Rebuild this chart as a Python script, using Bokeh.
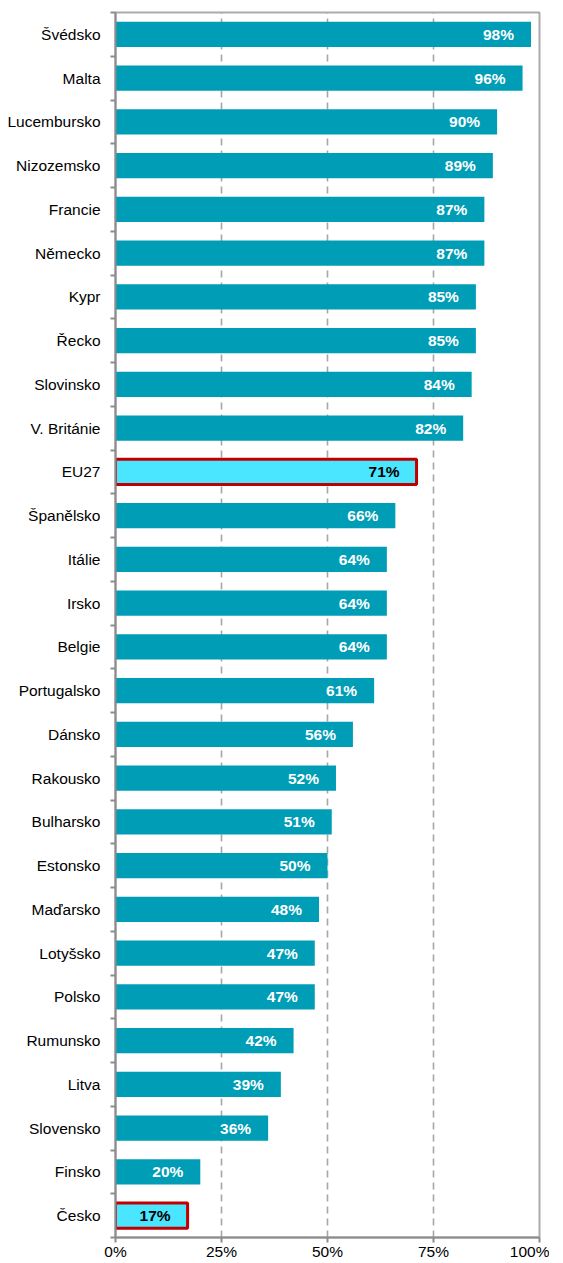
from bokeh.plotting import figure
from bokeh.models import ColumnDataSource, FixedTicker, Range1d
from bokeh.core.properties import value
from bokeh.embed import file_html
from bokeh.resources import INLINE

countries = ["Švédsko", "Malta", "Lucembursko", "Nizozemsko", "Francie", "Německo", "Kypr",
             "Řecko", "Slovinsko", "V. Británie", "EU27", "Španělsko", "Itálie", "Irsko",
             "Belgie", "Portugalsko", "Dánsko", "Rakousko", "Bulharsko", "Estonsko",
             "Maďarsko", "Lotyšsko", "Polsko", "Rumunsko", "Litva", "Slovensko", "Finsko", "Česko"]
values = [98, 96, 90, 89, 87, 87, 85, 85, 84, 82, 71, 66, 64, 64, 64, 61, 56, 52, 51, 50,
          48, 47, 47, 42, 39, 36, 20, 17]
highlighted = ["EU27", "Česko"]
x_ticks = [0, 25, 50, 75, 100]
x_tick_labels = ["0%", "25%", "50%", "75%", "100%"]

n = len(countries)
ypos = [n - 1 - i for i in range(n)]

normal = {"y": [], "v": [], "lab": []}
hl = {"y": [], "v": [], "lab": []}
for c, v, y in zip(countries, values, ypos):
    d = hl if c in highlighted else normal
    d["y"].append(y)
    d["v"].append(v)
    d["lab"].append(f"{v}%")

src_n = ColumnDataSource(normal)
src_h = ColumnDataSource(hl)

FONT = "Liberation Sans"

p = figure(frame_width=424, frame_height=1225, output_backend="svg", toolbar_location=None,
           x_range=Range1d(0, 100), y_range=Range1d(-0.5, n - 0.5),
           min_border_left=115, min_border_right=10, min_border_top=12, min_border_bottom=10)

p.outline_line_color = "#ABABAB"
p.outline_line_width = 2

p.hbar(y="y", right="v", left=0, height=0.58, source=src_n, fill_color="#009DB6",
       line_color=None)
p.hbar(y="y", right="v", left=0, height=0.58, source=src_h, fill_color="#4AE5FF",
       line_color="#C00000", line_width=3)

p.text(x="v", y="y", text="lab", source=src_n, text_align="right", text_baseline="middle",
       x_offset=-17, text_color="white", text_font=value(FONT), text_font_size="15.5px",
       text_font_style="bold")
p.text(x="v", y="y", text="lab", source=src_h, text_align="right", text_baseline="middle",
       x_offset=-17, text_color="black", text_font=value(FONT), text_font_size="15.5px",
       text_font_style="bold")

# grid
p.ygrid.grid_line_color = None
p.xgrid.ticker = FixedTicker(ticks=[25, 50, 75])
p.xgrid.grid_line_color = "#A6A6A6"
p.xgrid.grid_line_width = 1.6
p.xgrid.grid_line_dash = "7 5"

# x axis
p.xaxis.ticker = FixedTicker(ticks=x_ticks)
p.xaxis.major_label_overrides = {t: l for t, l in zip(x_ticks, x_tick_labels)}
p.xaxis.axis_line_color = "#8C8C8C"
p.xaxis.axis_line_width = 2
p.xaxis.major_tick_line_color = "#8C8C8C"
p.xaxis.major_tick_line_width = 2
p.xaxis.major_tick_out = 5
p.xaxis.major_tick_in = 0
p.xaxis.minor_tick_line_color = None
p.xaxis.major_label_standoff = 0
p.xaxis.major_label_text_font = FONT
p.xaxis.major_label_text_font_size = "15.5px"
p.xaxis.major_label_text_color = "black"

# y axis
p.yaxis.ticker = FixedTicker(ticks=ypos, minor_ticks=[y - 0.5 for y in range(n + 1)])
p.yaxis.major_label_overrides = {y: c for y, c in zip(ypos, countries)}
p.yaxis.axis_line_color = "#8C8C8C"
p.yaxis.axis_line_width = 2
p.yaxis.major_tick_line_color = None
p.yaxis.major_tick_out = 0
p.yaxis.major_tick_in = 0
p.yaxis.minor_tick_line_color = "#8C8C8C"
p.yaxis.minor_tick_line_width = 2
p.yaxis.minor_tick_out = 5
p.yaxis.minor_tick_in = 0
p.yaxis.major_label_standoff = 10
p.yaxis.major_label_text_font = FONT
p.yaxis.major_label_text_font_size = "15.5px"
p.yaxis.major_label_text_color = "black"

open("out.html", "w").write(file_html(p, INLINE))
